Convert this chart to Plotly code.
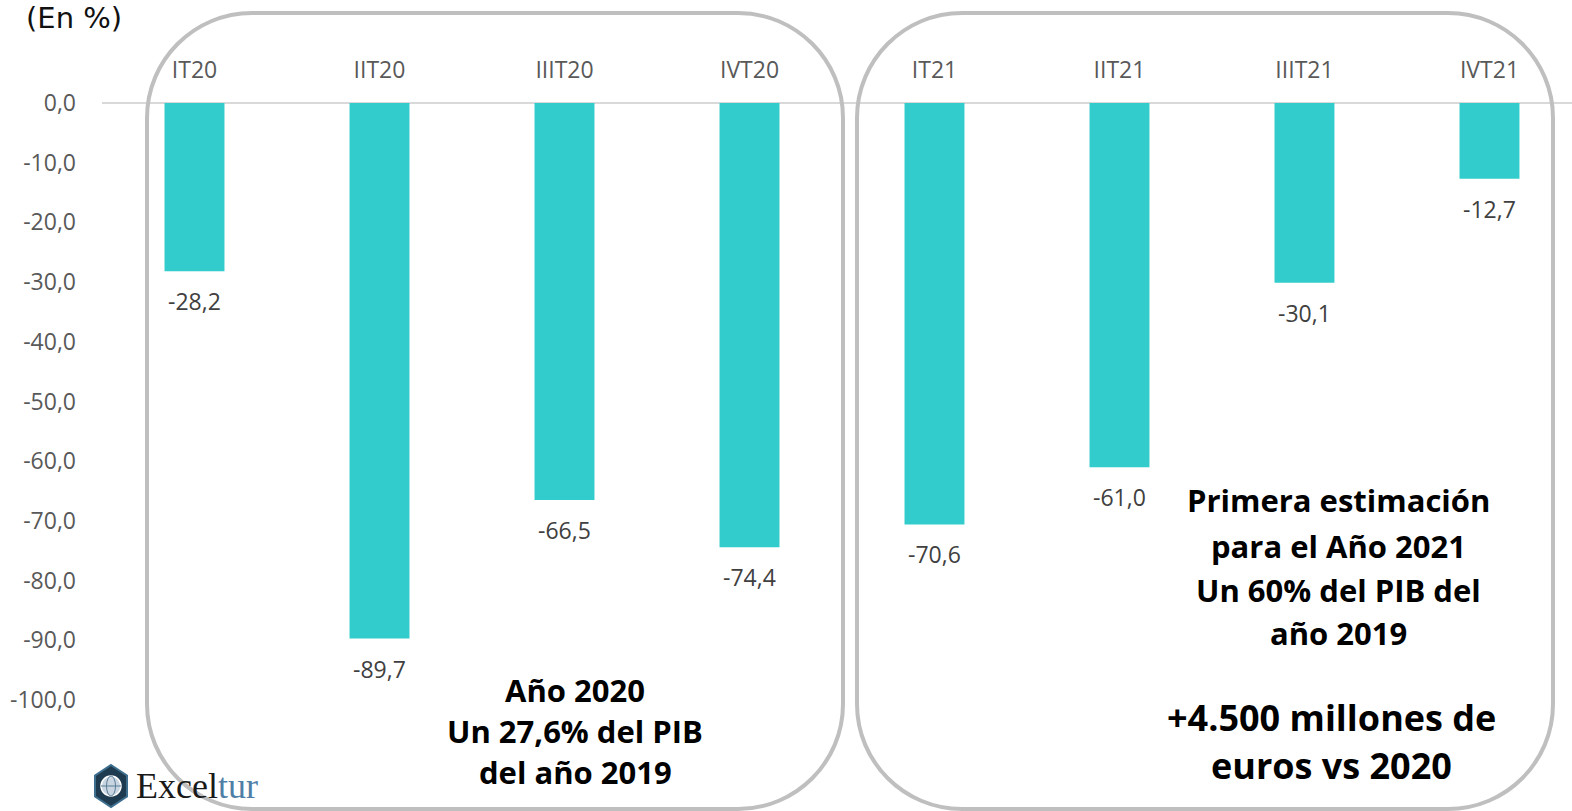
import plotly.graph_objects as go

categories = ["IT20", "IIT20", "IIIT20", "IVT20", "IT21", "IIT21", "IIIT21", "IVT21"]
values = [-28.2, -89.7, -66.5, -74.4, -70.6, -61.0, -30.1, -12.7]
y_ticks = [0, -10, -20, -30, -40, -50, -60, -70, -80, -90, -100]
y_tick_labels = [f"{v:.1f}".replace(".", ",") for v in y_ticks]
bar_labels = [f"{v:.1f}".replace(".", ",") for v in values]

W, H = 1572, 811
L, R, T, B = 102, 0, 103, 111
PW, PH = W - L - R, H - T - B


def px(x):
    return (x - L) / PW


def py(y):
    return (H - B - y) / PH


def rounded_rect(x0, y0, x1, y1, r):
    k = 0.5523 * r
    pts = []
    pts.append(f"M{px(x0 + r)},{py(y0)}")
    pts.append(f"L{px(x1 - r)},{py(y0)}")
    pts.append(f"C{px(x1 - r + k)},{py(y0)} {px(x1)},{py(y0 + r - k)} {px(x1)},{py(y0 + r)}")
    pts.append(f"L{px(x1)},{py(y1 - r)}")
    pts.append(f"C{px(x1)},{py(y1 - r + k)} {px(x1 - r + k)},{py(y1)} {px(x1 - r)},{py(y1)}")
    pts.append(f"L{px(x0 + r)},{py(y1)}")
    pts.append(f"C{px(x0 + r - k)},{py(y1)} {px(x0)},{py(y1 - r + k)} {px(x0)},{py(y1 - r)}")
    pts.append(f"L{px(x0)},{py(y0 + r)}")
    pts.append(f"C{px(x0)},{py(y0 + r - k)} {px(x0 + r - k)},{py(y0)} {px(x0 + r)},{py(y0)}")
    pts.append("Z")
    return " ".join(pts)


fig = go.Figure()
fig.add_trace(go.Bar(
    x=categories, y=values,
    marker=dict(color="#33cccc", line=dict(width=0)),
    hoverinfo="skip",
))

annotations = []
for c, v, t in zip(categories, values, bar_labels):
    annotations.append(dict(
        x=c, y=v, xref="x", yref="y", text=t, showarrow=False,
        yanchor="middle", yshift=-30,
        font=dict(family="Open Sans", size=23, color="#404040"),
    ))

bold = dict(family="Open Sans", color="#000000")


def add_text(x, y, text, size):
    annotations.append(dict(
        x=px(x), y=py(y), xref="paper", yref="paper", text=f"<b>{text}</b>",
        showarrow=False, xanchor="center", yanchor="middle",
        font=dict(size=size, **bold),
    ))


add_text(575, 690, "Año 2020", 31)
add_text(575, 731, "Un 27,6% del PIB", 31)
add_text(575, 772, "del año 2019", 31)

add_text(1338, 500, "Primera estimación", 31)
add_text(1338, 546, "para el Año 2021", 31)
add_text(1338, 590, "Un 60% del PIB del", 31)
add_text(1338, 633, "año 2019", 31)
add_text(1331, 717, "+4.500 millones de", 36)
add_text(1331, 765, "euros vs 2020", 36)

annotations.append(dict(
    x=px(24), y=py(18), xref="paper", yref="paper", text="(En %)",
    showarrow=False, xanchor="left", yanchor="middle",
    font=dict(family="DejaVu Sans", size=29, color="#111111"),
))

annotations.append(dict(
    x=px(134), y=py(786), xref="paper", yref="paper",
    text="<span style='color:#1a1a1a'>Excel</span><span style='color:#4f7fa6'>tur</span>",
    showarrow=False, xanchor="left", yanchor="middle",
    font=dict(family="Liberation Serif", size=36),
))

shapes = [
    dict(type="path", xref="paper", yref="paper", path=rounded_rect(147, 13, 843, 809, 105),
         line=dict(color="#bfbfbf", width=4), fillcolor="rgba(0,0,0,0)", layer="above"),
    dict(type="path", xref="paper", yref="paper", path=rounded_rect(857, 13, 1553, 809, 105),
         line=dict(color="#bfbfbf", width=4), fillcolor="rgba(0,0,0,0)", layer="above"),
]

# logo hexagon
cx, cy, hw, hh = 111, 786, 16, 21
hexpts = [(cx, cy - hh), (cx + hw, cy - hh / 2), (cx + hw, cy + hh / 2),
          (cx, cy + hh), (cx - hw, cy + hh / 2), (cx - hw, cy - hh / 2)]
hexpath = "M" + " L".join(f"{px(a)},{py(b)}" for a, b in hexpts) + " Z"
shapes.append(dict(type="path", xref="paper", yref="paper", path=hexpath,
                   line=dict(color="#3f6f8f", width=2), fillcolor="#1f3b50", layer="above"))
shapes.append(dict(type="circle", xref="paper", yref="paper",
                   x0=px(cx - 10), x1=px(cx + 10), y0=py(cy + 10), y1=py(cy - 10),
                   line=dict(color="#ffffff", width=1.5), fillcolor="#c9d6e2", layer="above"))
shapes.append(dict(type="circle", xref="paper", yref="paper",
                   x0=px(cx - 4.5), x1=px(cx + 4.5), y0=py(cy + 10), y1=py(cy - 10),
                   line=dict(color="#5b7d96", width=1), fillcolor="rgba(0,0,0,0)", layer="above"))
shapes.append(dict(type="line", xref="paper", yref="paper",
                   x0=px(cx - 10), x1=px(cx + 10), y0=py(cy), y1=py(cy),
                   line=dict(color="#5b7d96", width=1), layer="above"))

fig.update_layout(
    width=W, height=H,
    margin=dict(l=L, r=R, t=T, b=B, pad=0),
    paper_bgcolor="white", plot_bgcolor="white",
    showlegend=False,
    bargap=0.676,
    separators=",.",
    annotations=annotations,
    shapes=shapes,
    xaxis=dict(
        side="top", type="category", range=[-0.5, 7.446],
        showgrid=False, showline=False, zeroline=False, ticks="",
        ticklabelstandoff=19,
        tickfont=dict(family="Open Sans", size=23, color="#595959"),
    ),
    yaxis=dict(
        range=[-100, 0], showgrid=False, showline=False,
        zeroline=True, zerolinecolor="#d9d9d9", zerolinewidth=2,
        tickmode="array", tickvals=y_ticks, ticktext=y_tick_labels,
        ticks="", ticklabelstandoff=25,
        tickfont=dict(family="Open Sans", size=23, color="#595959"),
    ),
)

fig.write_html(
    "out.html",
    config={"displayModeBar": False},
    post_script="document.body.style.margin='0px';document.body.style.overflow='hidden';",
)
